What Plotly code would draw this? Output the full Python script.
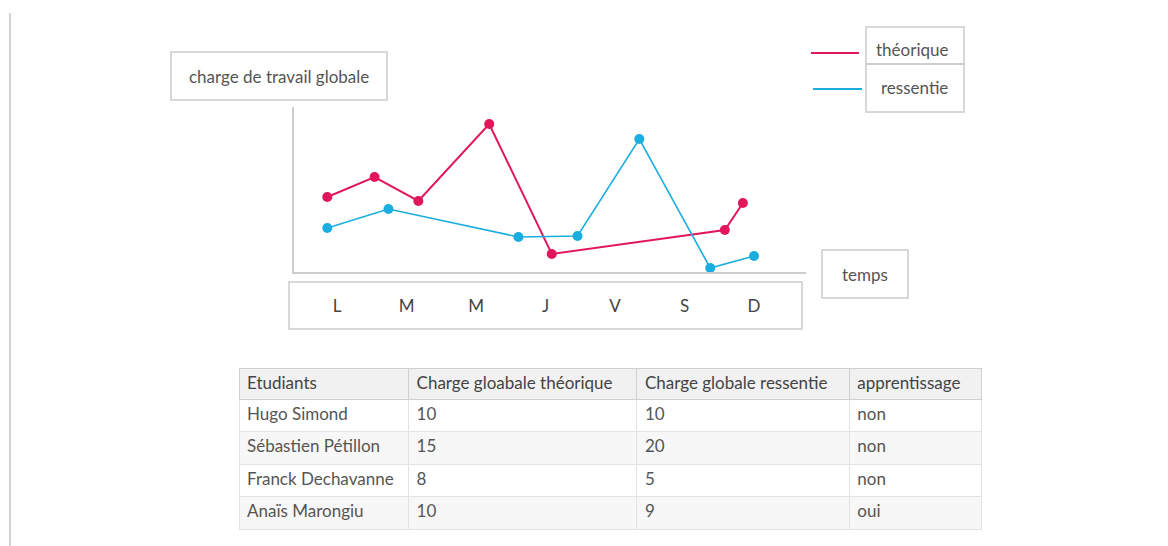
import plotly.graph_objects as go

W, H = 1168, 546

# ---- data ----
days = ["L", "M", "M", "J", "V", "S", "D"]
theo_x = [-0.14, 0.54, 1.17, 2.19, 3.09, 5.58, 5.84]
theo_y = [7.5, 9.5, 7.1, 14.8, 1.8, 4.2, 6.9]
ress_x = [-0.14, 0.74, 2.61, 3.46, 4.35, 5.37, 6.0]
ress_y = [4.4, 6.3, 3.5, 3.6, 13.3, 0.4, 1.6]

students = ["Hugo Simond", "Sébastien Pétillon", "Franck Dechavanne", "Anaïs Marongiu"]
charge_theo = ["10", "15", "8", "10"]
charge_ress = ["10", "20", "5", "9"]
apprentissage = ["non", "non", "non", "oui"]
table_headers = ["Etudiants", "Charge gloabale théorique", "Charge globale ressentie", "apprentissage"]

PINK = "#e2175b"
BLUE = "#1aaee0"
GRID = "#cdcdcd"
TXT = "#555555"
FONT = "Lato"


def px(x):
    return x / W


def py(y):
    return 1 - y / H


fig = go.Figure()

fig.add_trace(go.Scatter(
    x=theo_x, y=theo_y, name="théorique", mode="lines+markers",
    line=dict(color=PINK, width=2), marker=dict(color=PINK, size=10),
    cliponaxis=False, showlegend=False))
fig.add_trace(go.Scatter(
    x=ress_x, y=ress_y, name="ressentie", mode="lines+markers",
    line=dict(color=BLUE, width=1.6), marker=dict(color=BLUE, size=10),
    cliponaxis=False, showlegend=False))

fig.add_trace(go.Table(
    domain=dict(x=[px(239), px(982)], y=[py(531), py(368)]),
    columnwidth=[170, 229, 213, 132],
    header=dict(values=table_headers, fill_color="#f1f1f1", align="left",
                line=dict(color="#d0d0d0", width=1),
                font=dict(family=FONT, size=17, color="#444444"), height=31),
    cells=dict(values=[students, charge_theo, charge_ress, apprentissage],
               fill_color=[["#ffffff", "#f7f7f7", "#ffffff", "#f7f7f7"]] * 4,
               align="left", line=dict(color="#e2e2e2", width=1),
               font=dict(family=FONT, size=17, color=TXT), height=32.5),
))

shapes = []


def box(x0, y0, x1, y1):
    shapes.append(dict(type="rect", xref="paper", yref="paper",
                       x0=px(x0), x1=px(x1), y0=py(y1), y1=py(y0),
                       line=dict(color="#cccccc", width=1.5), layer="below"))


box(171, 52, 387, 100)     # y label box
box(289, 282, 802, 329)    # x tick box
box(822, 250, 908, 298)    # temps box
box(866, 27, 964, 64)      # legend théorique
box(866, 64, 964, 112)     # legend ressentie

# legend lines
shapes.append(dict(type="line", xref="paper", yref="paper", x0=px(811), x1=px(859),
                   y0=py(53), y1=py(53), line=dict(color=PINK, width=2)))
shapes.append(dict(type="line", xref="paper", yref="paper", x0=px(813), x1=px(862),
                   y0=py(89), y1=py(89), line=dict(color=BLUE, width=2)))
# left edge line
shapes.append(dict(type="line", xref="paper", yref="paper", x0=px(10), x1=px(10),
                   y0=0, y1=py(13), line=dict(color="#d4d4d4", width=2)))

annotations = []


def label(x, y, text):
    annotations.append(dict(x=px(x), y=py(y), xref="paper", yref="paper", text=text,
                            showarrow=False, xanchor="center", yanchor="middle",
                            font=dict(family=FONT, size=17, color=TXT)))


label(279, 77, "charge de travail globale")
label(865, 274, "temps")
label(912, 49, "théorique")
label(914, 88, "ressentie")

fig.update_layout(
    width=W, height=H,
    margin=dict(l=0, r=0, t=0, b=0),
    paper_bgcolor="white", plot_bgcolor="white",
    font=dict(family=FONT, color=TXT),
    shapes=shapes, annotations=annotations,
    xaxis=dict(domain=[px(294), px(806)], range=[-0.619, 6.748],
               showgrid=False, zeroline=False, showline=True,
               linecolor=GRID, linewidth=2,
               tickvals=list(range(len(days))), ticktext=days,
               ticks="", ticklabelstandoff=18,
               tickfont=dict(family=FONT, size=17, color="#444444")),
    yaxis=dict(domain=[py(272), py(107)], range=[0, 16.5],
               showgrid=False, zeroline=False, showline=True,
               linecolor=GRID, linewidth=2, showticklabels=False, ticks=""),
)

fig.write_html("out.html", config={"displayModeBar": False},
               post_script="document.body.style.margin='0';")
